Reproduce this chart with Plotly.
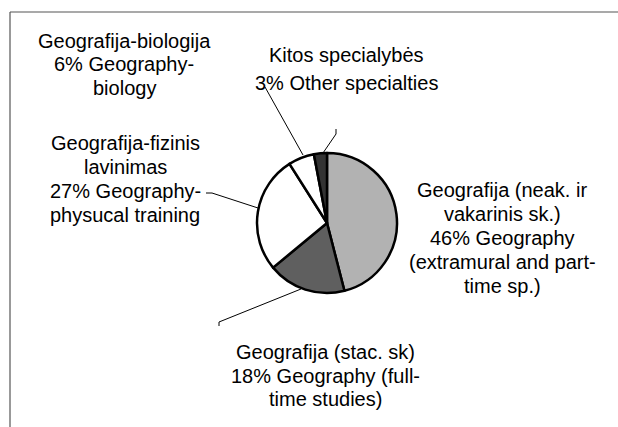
import plotly.graph_objects as go

W, H = 618, 427

categories = [
    "Geografija (neak. ir vakarinis sk.)",
    "Geografija (stac. sk)",
    "Geografija-fizinis lavinimas",
    "Geografija-biologija",
    "Kitos specialybės",
]
values = [46, 18, 27, 6, 3]
colors = ["#b2b2b2", "#5f5f5f", "#ffffff", "#ffffff", "#333333"]
label_lines = [
    ["Geografija (neak. ir", "vakarinis sk.)", "{v}% Geography", "(extramural and part-", "time sp.)"],
    ["Geografija (stac. sk)", "{v}% Geography (full-", "time studies)"],
    ["Geografija-fizinis", "lavinimas", "{v}% Geography-", "physucal training"],
    ["Geografija-biologija", "{v}% Geography-", "biology"],
    ["Kitos specialybės", "{v}% Other specialties"],
]

# layout (pixels)
pie_cx, pie_cy, pie_r = 327, 223, 70
label_x = [502, 325, 125, 124, 346]
label_line_y = [
    [190, 214, 238, 262, 286],
    [352, 376, 399],
    [143, 167, 191, 215],
    [41, 64, 88],
    [55, 83],
]
leaders = [
    None,
    [(219, 326), (219, 322), (301, 289)],
    [(206, 193), (212, 193), (258, 208)],
    [(265, 87), (303, 155)],
    [(336, 129), (336, 134), (323, 153)],
]


def px(x):
    return x / W


def py(y):
    return 1 - y / H


fig = go.Figure(
    go.Pie(
        labels=categories,
        values=values,
        sort=False,
        direction="clockwise",
        rotation=0,
        marker=dict(colors=colors, line=dict(color="#000000", width=2.5)),
        textinfo="none",
        hoverinfo="skip",
        showlegend=False,
        domain=dict(
            x=[px(pie_cx - pie_r), px(pie_cx + pie_r)],
            y=[py(pie_cy + pie_r), py(pie_cy - pie_r)],
        ),
    )
)

font = dict(family="Liberation Sans, Arial, sans-serif", size=20, color="#000000")
annotations = []
for lines, v, x, ys in zip(label_lines, values, label_x, label_line_y):
    for line, y in zip(lines, ys):
        annotations.append(
            dict(
                text=line.format(v=v),
                x=px(x),
                y=py(y),
                xref="paper",
                yref="paper",
                xanchor="center",
                yanchor="middle",
                align="center",
                showarrow=False,
                font=font,
            )
        )

shapes = []
for pts in leaders:
    if not pts:
        continue
    path = "M " + " L ".join(f"{px(a)},{py(b)}" for a, b in pts)
    shapes.append(
        dict(type="path", path=path, xref="paper", yref="paper",
             line=dict(color="#000000", width=1))
    )
# chart frame (top and left edges visible)
shapes.append(dict(type="line", xref="paper", yref="paper", x0=px(10), y0=py(12), x1=1.01, y1=py(12),
                   line=dict(color="#555555", width=1.2)))
shapes.append(dict(type="line", xref="paper", yref="paper", x0=px(10), y0=py(12), x1=px(10), y1=-0.01,
                   line=dict(color="#555555", width=1.2)))

fig.update_layout(
    width=W,
    height=H,
    margin=dict(l=0, r=0, t=0, b=0),
    paper_bgcolor="#ffffff",
    plot_bgcolor="#ffffff",
    annotations=annotations,
    shapes=shapes,
    showlegend=False,
)

fig.write_html(
    "out.html",
    config={"displayModeBar": False},
    post_script="document.body.style.margin='0';document.body.style.overflow='hidden';",
)
